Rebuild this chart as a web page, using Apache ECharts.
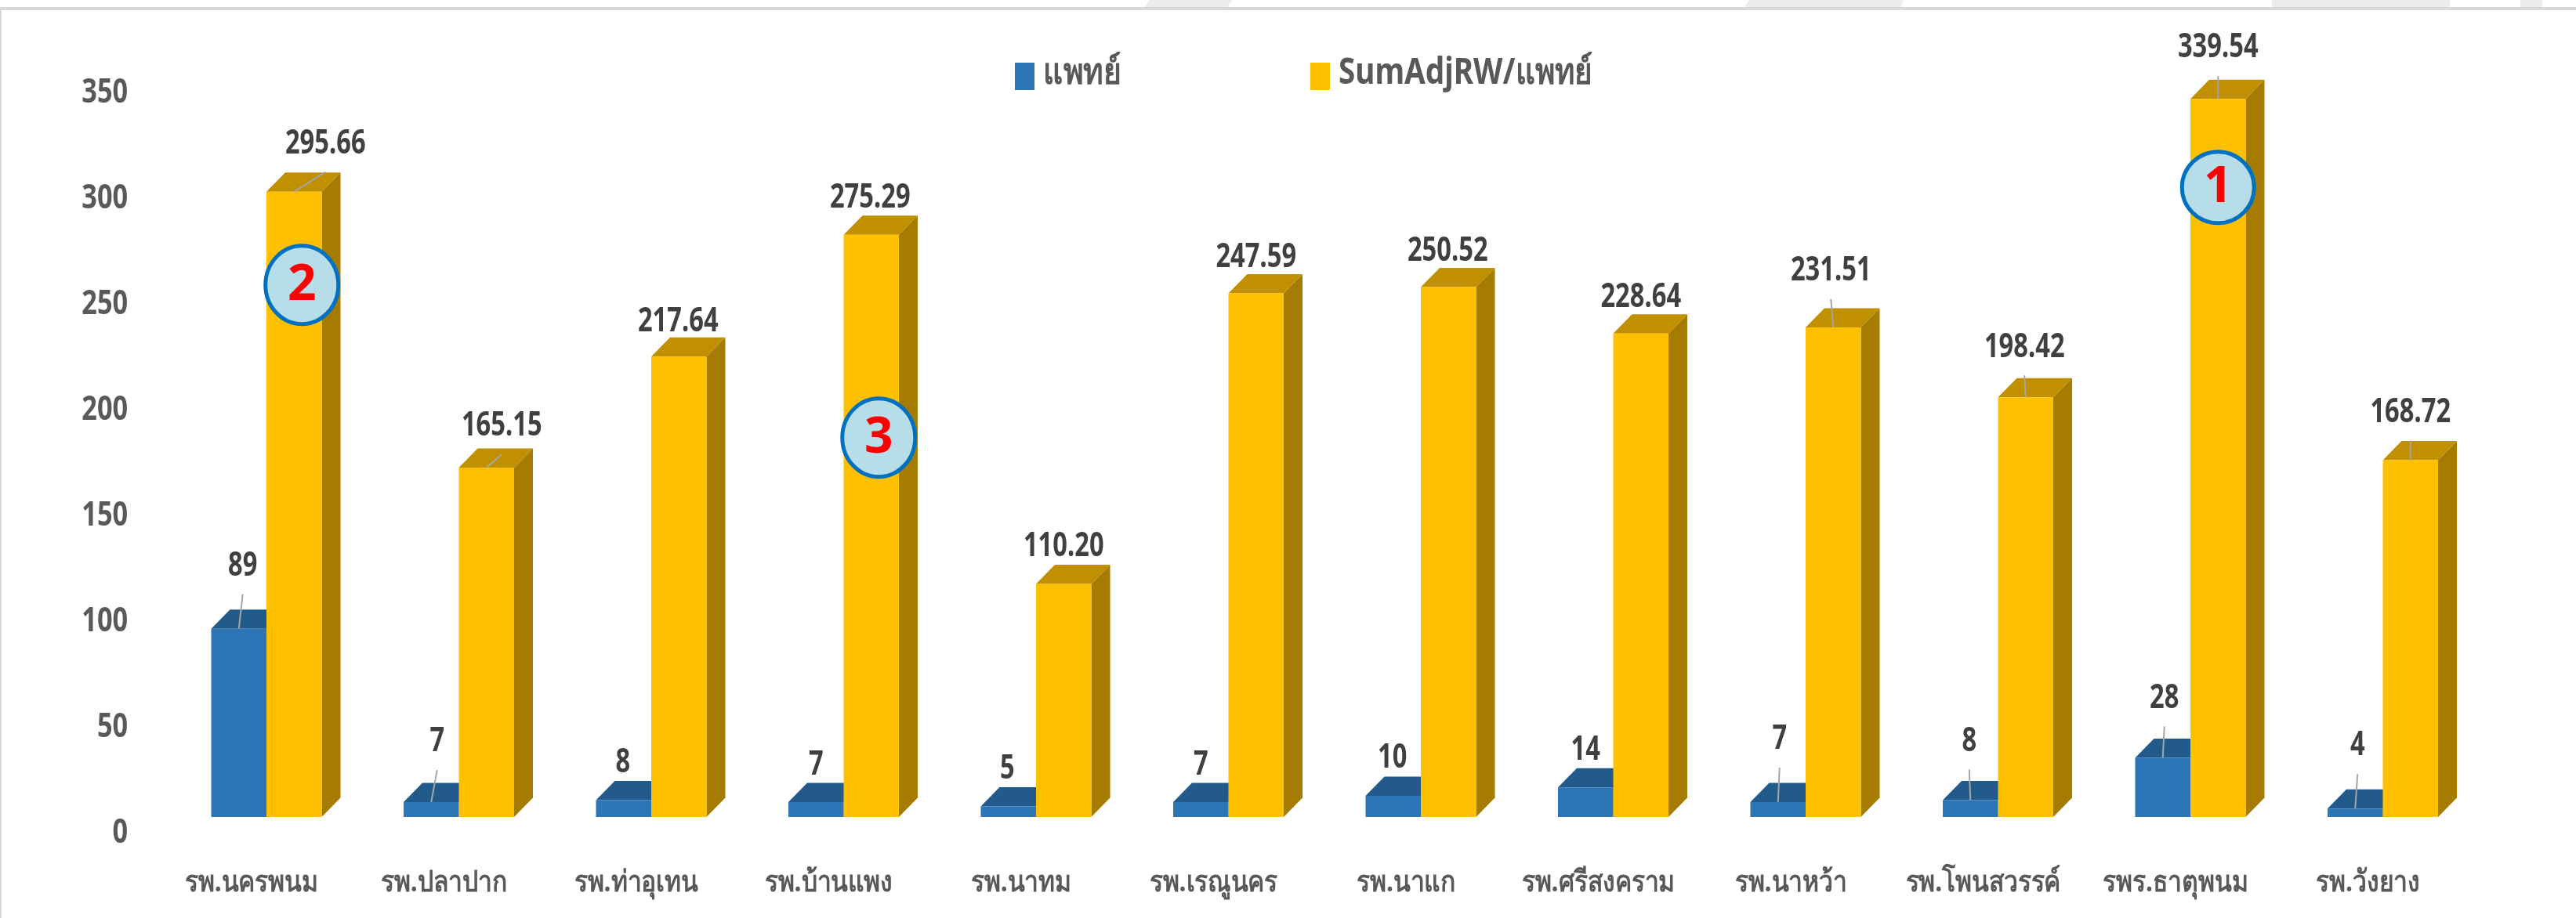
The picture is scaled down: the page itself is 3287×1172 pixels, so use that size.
<!DOCTYPE html>
<html>
<head>
<meta charset="UTF-8">
<title>SumAdjRW</title>
<script src="https://cdn.jsdelivr.net/npm/echarts@6/dist/echarts.min.js"></script>
<style>
	html,body{margin:0;padding:0;background:#fff;}
	#chart{width:3287px;height:1172px;}
</style>
</head>
<body>
<div id="chart"></div>
<script>
// data
var categories = ['รพ.นครพนม','รพ.ปลาปาก','รพ.ท่าอุเทน','รพ.บ้านแพง','รพ.นาทม','รพ.เรณูนคร','รพ.นาแก','รพ.ศรีสงคราม','รพ.นาหว้า','รพ.โพนสวรรค์','รพร.ธาตุพนม','รพ.วังยาง'];
var doctors = [89,7,8,7,5,7,10,14,7,8,28,4];
var sumAdjRw = [295.66,165.15,217.64,275.29,110.20,247.59,250.52,228.64,231.51,198.42,339.54,168.72];
var yTicks = [0,50,100,150,200,250,300,350];
var ranks = [2,null,null,3,null,null,null,null,null,null,1,null];

// label nudges in px from the front top edge of each bar
var doctorLabelOffset = [[5,-84],[7.5,-81],[-1,-52],[0,-51],[-1.5,-51.5],[0,-51],[-1,-52],[0,-51],[2,-84],[-1.5,-79],[2,-80],[3,-84]];
var adjLabelOffset = [[40,-65],[19.5,-57],[-1,-49],[-1.5,-51],[0,-51.5],[0,-50],[-1,-50],[0,-50],[-3,-76],[-1.5,-68],[0,-69],[0,-65]];
var rankOffset = {1:[0,113,48,47.5],2:[10,119,48.5,52],3:[9.5,259,48.5,52]};

var FONT = '"Noto Sans","DejaVu Sans",sans-serif';
var BAR_W = 70.5, DX = 24, DY = 24.5;
var GREY = '#595959';

// the reference text is squeezed sideways, so all text gets a scaleX
function squeezed(x, y, text, font, fill, align, sx){
	return {type:'text',x:x,y:y,scaleX:sx,style:{text:text,font:font,fill:fill,align:align,verticalAlign:'middle'}};
}

function bar3d(colors, side, offsets, decimals){
	return function(params, api){
		var i = api.value(0), v = api.value(1);
		var base = api.coord([i,0]), top = api.coord([i,v]);
		var x0 = base[0] + (side<0 ? -BAR_W : 0), x1 = x0 + BAR_W;
		var y0 = base[1], y1 = top[1];
		var cx = (x0+x1)/2;
		var off = offsets[i];
		var lx = cx+off[0], ly = y1+off[1];
		var kids = [
			{type:'polygon',shape:{points:[[x1,y0],[x1+DX,y0-DY],[x1+DX,y1-DY],[x1,y1]]},style:{fill:colors[2]}},
			{type:'polygon',shape:{points:[[x0,y1],[x0+DX,y1-DY],[x1+DX,y1-DY],[x1,y1]]},style:{fill:colors[1]}},
			{type:'rect',shape:{x:x0,y:y1,width:BAR_W,height:y0-y1},style:{fill:colors[0]}}
		];
		if(off[1] < -56){
			kids.push({type:'line',shape:{x1:cx,y1:y1,x2:lx,y2:ly+40},style:{stroke:'#a6a6a6',lineWidth:2}});
		}
		kids.push(squeezed(lx,ly+4,v.toFixed(decimals),'bold 43px '+FONT,'#404040','center',0.76));
		return {type:'group',children:kids};
	};
}

function rankBadge(params, api){
	var i = api.value(0), v = api.value(1), r = api.value(2);
	var o = rankOffset[r];
	var p = api.coord([i,v]);
	var cx = p[0]+BAR_W/2+o[0], cy = p[1]+o[1];
	return {type:'group',children:[
		{type:'ellipse',shape:{cx:cx,cy:cy,rx:o[2]-2,ry:o[3]-2},style:{fill:'#b7dde8',stroke:'#0070c0',lineWidth:5}},
		{type:'text',x:cx,y:cy+1,style:{text:String(r),font:'bold 64px '+FONT,fill:'#ff0000',align:'center',verticalAlign:'middle'}}
	]};
}

function yTickText(params, api){
	var v = api.value(1);
	var p = api.coord([0,v]);
	return squeezed(params.coordSys.x-54,p[1]+21,String(v),'bold 43px '+FONT,GREY,'right',0.8);
}

function xTickText(params, api){
	var i = api.value(0);
	var p = api.coord([i,0]);
	return squeezed(p[0]-19,p[1]+84,categories[i],'bold 38px '+FONT,GREY,'center',0.84);
}

var rankData = [];
for(var k=0;k<ranks.length;k++){
	if(ranks[k]!==null){ rankData.push([k,sumAdjRw[k],ranks[k]]); }
}

var chart = echarts.init(document.getElementById('chart'),null,{renderer:'canvas'});
chart.setOption({
	animation:false,
	backgroundColor:'#fff',
	textStyle:{fontFamily:FONT},
	grid:{left:217.25,top:98,width:2946,height:945,containLabel:false},
	legend:[
		{left:1295,top:80,padding:0,icon:'rect',itemWidth:25,itemHeight:35,selectedMode:false,formatter:function(){return '';},
			data:[{name:'แพทย์',itemStyle:{color:'#2e75b6'}}]},
		{left:1672,top:80,padding:0,icon:'rect',itemWidth:25,itemHeight:35,selectedMode:false,formatter:function(){return '';},
			data:[{name:'SumAdjRW/แพทย์',itemStyle:{color:'#ffc000'}}]}
	],
	xAxis:{type:'category',data:categories,axisLine:{show:false},axisTick:{show:false},axisLabel:{show:false}},
	yAxis:{type:'value',min:yTicks[0],max:yTicks[yTicks.length-1],interval:50,splitLine:{show:false},axisLine:{show:false},axisTick:{show:false},axisLabel:{show:false}},
	graphic:[
		// page frame and the bit of slide background above it
		{type:'polygon',silent:true,shape:{points:[[1467,0],[1572,0],[1566,9],[1460,9]]},style:{fill:'#ececec'}},
		{type:'polygon',silent:true,shape:{points:[[2232,0],[2428,0],[2426,9],[2226,9]]},style:{fill:'#ececec'}},
		{type:'rect',silent:true,shape:{x:2899,y:0,width:227,height:9},style:{fill:'#ececec'}},
		{type:'rect',silent:true,shape:{x:3216,y:0,width:28,height:9},style:{fill:'#ececec'}},
		{type:'rect',silent:true,shape:{x:0,y:9,width:3287,height:4},style:{fill:'#d9d9d9'}},
		{type:'rect',silent:true,shape:{x:0,y:9,width:2,height:1163},style:{fill:'#d9d9d9'}},
		{type:'text',silent:true,x:1331,y:94,scaleX:0.85,style:{text:'แพทย์',font:'bold 46px '+FONT,fill:GREY,align:'left',verticalAlign:'middle'}},
		{type:'text',silent:true,x:1708,y:94,scaleX:0.84,style:{text:'SumAdjRW/แพทย์',font:'bold 46px '+FONT,fill:GREY,align:'left',verticalAlign:'middle'}}
	],
	series:[
		{name:'แพทย์',type:'custom',coordinateSystem:'cartesian2d',clip:false,z:2,
			itemStyle:{color:'#2e75b6'},
			renderItem:bar3d(['#2e75b6','#215a8b','#1f4e79'],-1,doctorLabelOffset,0),
			encode:{x:0,y:1},
			data:doctors.map(function(v,i){return [i,v];})},
		{name:'SumAdjRW/แพทย์',type:'custom',coordinateSystem:'cartesian2d',clip:false,z:3,
			itemStyle:{color:'#ffc000'},
			renderItem:bar3d(['#ffc000','#c09000','#a67c00'],1,adjLabelOffset,2),
			encode:{x:0,y:1},
			data:sumAdjRw.map(function(v,i){return [i,v];})},
		{name:'rank',type:'custom',coordinateSystem:'cartesian2d',clip:false,z:4,
			renderItem:rankBadge,encode:{x:0,y:1},data:rankData},
		{name:'yTickText',type:'custom',coordinateSystem:'cartesian2d',clip:false,z:1,
			renderItem:yTickText,encode:{x:0,y:1},data:yTicks.map(function(v){return [0,v];})},
		{name:'xTickText',type:'custom',coordinateSystem:'cartesian2d',clip:false,z:1,
			renderItem:xTickText,encode:{x:0,y:1},data:categories.map(function(c,i){return [i,0];})}
	]
});
</script>
</body>
</html>
